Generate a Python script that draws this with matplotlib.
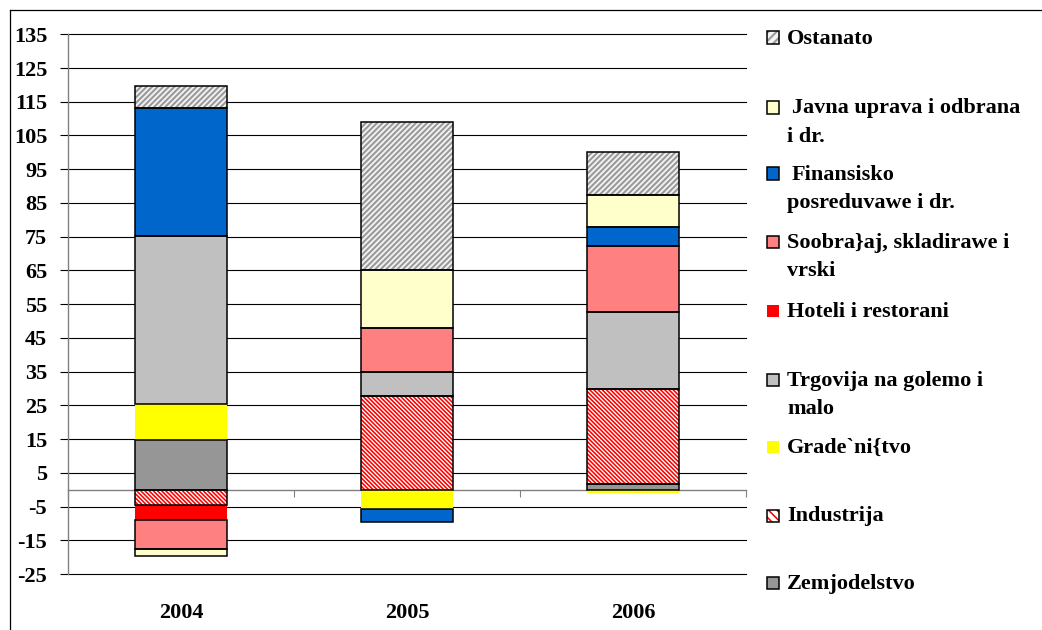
import numpy as np
import matplotlib
matplotlib.use("Agg")
import matplotlib.pyplot as plt
from matplotlib.patches import Rectangle
from matplotlib.lines import Line2D

plt.rcParams['font.family'] = ['Liberation Serif', 'DejaVu Serif']
plt.rcParams['font.weight'] = 'bold'
plt.rcParams['hatch.linewidth'] = 1.5

# ---- data ----
years = ["2004", "2005", "2006"]
series_names = ["Zemjodelstvo", "Industrija", "Grade`ni{tvo", "Trgovija na golemo i malo",
                "Hoteli i restorani", "Soobra}aj, skladirawe i vrski",
                "Finansisko posreduvawe i dr.", "Javna uprava i odbrana i dr.", "Ostanato"]
zemjodelstvo = [14.8, 0.0, 1.8]
industrija = [-4.4, 27.8, 27.9]
gradeznistvo = [10.6, -5.8, -1.0]
trgovija = [49.8, 7.1, 23.1]
hoteli = [-4.6, 0.0, 0.0]
soobrakaj = [-8.7, 13.0, 19.3]
finansisko = [38.0, -3.9, 5.9]
javna = [-1.9, 17.3, 9.5]
ostanato = [6.5, 43.8, 12.7]
yticks = [-25, -15, -5, 5, 15, 25, 35, 45, 55, 65, 75, 85, 95, 105, 115, 125, 135]

all_values = [zemjodelstvo, industrija, gradeznistvo, trgovija, hoteli,
              soobrakaj, finansisko, javna, ostanato]

# ---- styles ----
styles = [
    dict(face="#969696", edge=True, hatch=None, hcol=None, hlw=1.5),
    dict(face="#ffffff", edge=True, hatch="\\" * 8, hcol="#ff0000", hlw=1.15),
    dict(face="#ffff00", edge=False, hatch=None, hcol=None, hlw=1.5),
    dict(face="#c0c0c0", edge=True, hatch=None, hcol=None, hlw=1.5),
    dict(face="#ff0000", edge=False, hatch=None, hcol=None, hlw=1.5),
    dict(face="#ff8080", edge=True, hatch=None, hcol=None, hlw=1.5),
    dict(face="#0066cc", edge=True, hatch=None, hcol=None, hlw=1.5),
    dict(face="#ffffcc", edge=True, hatch=None, hcol=None, hlw=1.5),
    dict(face="#f4f4f4", edge=True, hatch="/" * 6, hcol="#9a9a9a", hlw=1.5),
]

W, H = 1042, 630
fig = plt.figure(figsize=(W / 100, H / 100), dpi=100)
fig.patch.set_facecolor("white")

def fx(px):
    return px / W

def fy(py):
    return 1 - py / H

ax = fig.add_axes([fx(68), fy(574), fx(746) - fx(68), (574 - 34.3) / H])
ax.set_xlim(-0.5, 2.5)
ax.set_ylim(-25, 135)
ax.set_axisbelow(True)

x = np.arange(len(years))
bw = 0.407
pos_base = np.zeros(len(years))
neg_base = np.zeros(len(years))
for vals, st in zip(all_values, styles):
    v = np.array(vals, dtype=float)
    bottom = np.where(v >= 0, pos_base, neg_base)
    m = v != 0
    xs, hs, bs = x[m], v[m], bottom[m]
    ax.bar(xs, hs, bottom=bs, width=bw, color=st["face"], linewidth=0, zorder=3)
    if st["hatch"]:
        with plt.rc_context({"hatch.linewidth": st["hlw"]}):
            ax.bar(xs, hs, bottom=bs, width=bw, fill=False, hatch=st["hatch"],
                   edgecolor=st["hcol"], linewidth=0, zorder=4)
    if st["edge"]:
        ax.bar(xs, hs, bottom=bs, width=bw, fill=False, edgecolor="black",
               linewidth=1.1, zorder=5)
    pos_base = pos_base + np.where(v > 0, v, 0)
    neg_base = neg_base + np.where(v < 0, v, 0)

# axes styling
for s in ["top", "right"]:
    ax.spines[s].set_visible(False)
ax.spines["left"].set_color("#808080")
ax.spines["left"].set_linewidth(1.0)
ax.spines["bottom"].set_position(("data", 0))
ax.spines["bottom"].set_color("#808080")
ax.spines["bottom"].set_linewidth(1.0)
ax.spines["bottom"].set_zorder(2)

ax.set_yticks(yticks)
ax.set_yticklabels([str(t) for t in yticks])
ax.yaxis.grid(True, color="black", linewidth=0.8)
for gl in ax.get_ygridlines():
    gl.set_clip_on(False)
ax.tick_params(axis="y", direction="out", length=6, width=0.8, color="black",
               pad=9, labelsize=16)
ax.set_xticks([-0.5, 0.5, 1.5, 2.5])
ax.set_xticklabels([])
ax.tick_params(axis="x", direction="out", length=5, width=0.8, color="#808080")
for i, yr in enumerate(years):
    ax.text(i, -0.072, yr, transform=ax.get_xaxis_transform(), ha="center",
            va="center", fontsize=16, fontweight="bold")

# outer border (top & left visible)
fig.add_artist(Line2D([fx(10), fx(10)], [fy(10), 0], color="black", lw=0.9))
fig.add_artist(Line2D([fx(10), 1], [fy(10), fy(10)], color="black", lw=0.9))

# legend (manual, reversed series order)
leg_entries = [
    (8, ["Ostanato"], 37.5, 0),
    (7, ["Javna uprava i odbrana", "i dr."], 107.5, 5),
    (6, ["Finansisko", "posreduvawe i dr."], 173.5, 5),
    (5, ["Soobra}aj, skladirawe i", "vrski"], 242.0, 0),
    (4, ["Hoteli i restorani"], 311.0, 0),
    (3, ["Trgovija na golemo i", "malo"], 380.0, 0),
    (2, ["Grade`ni{tvo"], 446.5, 0),
    (1, ["Industrija"], 515.5, 0),
    (0, ["Zemjodelstvo"], 582.5, 0),
]
msz = 12
mx = 767
for idx, lines, yc, indent in leg_entries:
    st = styles[idx]
    rect_args = ([fx(mx), fy(yc + msz / 2)], msz / W, msz / H)
    fig.add_artist(Rectangle(*rect_args, transform=fig.transFigure,
                             facecolor=st["face"], linewidth=0))
    if st["hatch"]:
        with plt.rc_context({"hatch.linewidth": st["hlw"]}):
            fig.add_artist(Rectangle(*rect_args, transform=fig.transFigure, fill=False,
                                     hatch=st["hatch"][:4], edgecolor=st["hcol"],
                                     linewidth=0))
    if st["edge"]:
        fig.add_artist(Rectangle(*rect_args, transform=fig.transFigure, fill=False,
                                 edgecolor="black", linewidth=1.1))
    for k, line in enumerate(lines):
        xt = 787 + (indent if k == 0 else 0)
        fig.text(fx(xt), fy(yc + 1 + k * 28.5), line, ha="left", va="center",
                 fontsize=16, fontweight="bold")

fig.savefig("out.png", dpi=100, facecolor="white")
